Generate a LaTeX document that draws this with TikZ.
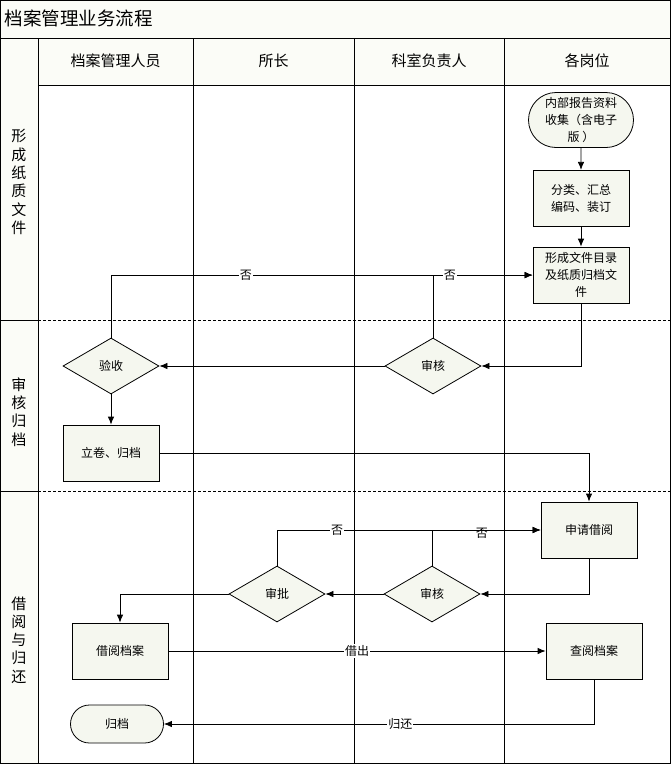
\documentclass[tikz,border=0pt]{standalone}
\usepackage{fontspec}
\setmainfont{Noto Sans CJK SC}
\usepackage{tikz}
\usetikzlibrary{shapes.misc, positioning, shapes.geometric, arrows.meta}
\definecolor{boxfill}{RGB}{245,247,239}
\definecolor{headfill}{RGB}{251,252,247}
\tikzstyle{arrow} = [->,>={Latex[length=8pt,width=6.5pt]}]
\tikzstyle{block} = [draw, fill=boxfill, rectangle, align=center,
    minimum height=56pt, minimum width=96pt, inner sep=2pt,
    font=\fontsize{12}{17}\selectfont]
\tikzstyle{decision} = [draw, fill=boxfill, diamond, aspect=1.7,
    minimum height=56pt, minimum width=96pt, inner sep=0pt,
    font=\fontsize{12}{17}\selectfont]
\tikzstyle{terminal} = [draw, fill=boxfill, rounded rectangle, align=center,
    minimum height=38pt, minimum width=97pt, inner sep=2pt,
    font=\fontsize{12}{17}\selectfont]
\tikzstyle{colhead} = [font=\fontsize{15}{18}\selectfont]
\tikzstyle{lanehead} = [align=center, font=\fontsize{15}{18.3}\selectfont]
\tikzstyle{lbl} = [fill=white, inner sep=1pt, font=\fontsize{12}{14}\selectfont]

\begin{document}
\begin{tikzpicture}[x=1pt, y=-1pt, line width=0.8pt]
    \useasboundingbox (0,0) rectangle (672,764);
    % frame and swimlanes
    \fill[headfill] (0.5,0.5) rectangle (670.5,85);
    \fill[headfill] (0.5,38) rectangle (38,763.5);
    \draw (0.5,0.5) rectangle (670.5,763.5);
    \draw (0.5,38) -- (670.5,38);
    \draw (38,38) -- (38,763.5);
    \draw (38,85) -- (670.5,85);
    \draw (0.5,320) -- (38,320);
    \draw (0.5,491) -- (38,491);
    \draw[densely dashed] (38,320) -- (670.5,320);
    \draw[densely dashed] (38,491) -- (670.5,491);
    \foreach \x in {193,354,504}
        \draw (\x,38) -- (\x,763.5);
    \node [anchor=west, font=\fontsize{18.5}{20}\selectfont] (title) at (1,18) {档案管理业务流程};
    \node [colhead] (staff) at (115.5,61) {档案管理人员};
    \node [colhead] (head) at (273.5,61) {所长};
    \node [colhead] (chief) at (429,61) {科室负责人};
    \node [colhead] (post) at (587,61) {各岗位};
    \node [lanehead] (lane1) at (19,182) {形\\成\\纸\\质\\文\\件};
    \node [lanehead] (lane2) at (19,412) {审\\核\\归\\档};
    \node [lanehead] (lane3) at (19,640) {借\\阅\\与\\归\\还};

    % nodes
    \node [terminal, minimum width=109pt, minimum height=55pt] (collect) at (581,120) {内部报告资料\\收集（含电子\\版 ）};
    \node [block, below=22pt of collect] (sort) {分类、汇总\\编码、装订};
    \node [block, below=20pt of sort] (catalog) {形成文件目录\\及纸质归档文\\件};
    \node [decision] (check) at (433,366) {审核};
    \node [decision] (accept) at (111,366) {验收};
    \node [block] (file) at (111,453) {立卷、归档};
    \node [block] (apply) at (589,530) {申请借阅};
    \node [decision] (check2) at (432,594) {审核};
    \node [decision] (approve) at (277,594) {审批};
    \node [block] (borrow) at (120,651) {借阅档案};
    \node [block] (read) at (594,651) {查阅档案};
    \node [terminal] (archive) at (117,724) {归档};

    % connectors
    \draw [arrow] (collect) -- (sort);
    \draw [arrow] (sort) -- (catalog);
    \draw [arrow] (catalog.south) |- (check.east);
    \draw [arrow] (check) -- (accept);
    \draw [arrow] (accept.north) |- node[lbl, pos=0.66] {否} (catalog.west);
    \draw [arrow] (check.north) |- node[lbl, pos=0.585] {否} (catalog.west);
    \draw [arrow] (accept) -- (file);
    \draw [arrow] (file.east) -| (apply.north);
    \draw [arrow] (apply.south) |- (check2.east);
    \draw [arrow] (check2) -- (approve);
    \draw [arrow] (approve.north) |- node[lbl, pos=0.614] {否} (apply.west);
    \draw [arrow] (check2.north) |- node[lbl, pos=0.73, yshift=-3pt, fill=none] {否} (apply.west);
    \draw [arrow] (approve.west) -| (borrow.north);
    \draw [arrow] (borrow) -- node[lbl] {借出} (read);
    \draw [arrow] (read.south) |- node[lbl, pos=0.725] {归还} (archive.east);
\end{tikzpicture}
\end{document}
